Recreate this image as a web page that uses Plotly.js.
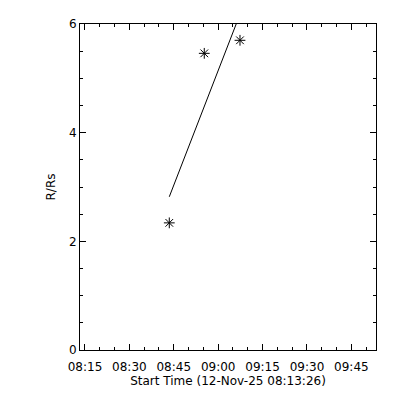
<!DOCTYPE html>
<html><head><meta charset="utf-8">
<script src="https://cdn.plot.ly/plotly-3.0.1.min.js"></script>
<style>html,body{margin:0;padding:0;background:#fff}#c{width:400px;height:400px}</style>
</head><body><div id="c"></div>
<script>
var obsTimes = ['2025-11-12 08:43:29', '2025-11-12 08:55:18', '2025-11-12 09:07:22'];
var obsR = [2.34, 5.46, 5.70];
var fitTimes = ['2025-11-12 08:43:29', '2025-11-12 09:07:22'];
var fitR = [2.82, 6.18];
var xRange = ['2025-11-12 08:13:19', '2025-11-12 09:53:19'];
var yRange = [0, 6];
var xTitle = 'Start Time (12-Nov-25 08:13:26)';
var yTitle = 'R/Rs';

var font = {family: 'DejaVu Sans, sans-serif', size: 12, color: '#000'};
var data = [
  {x: obsTimes, y: obsR, mode: 'markers', type: 'scatter',
   marker: {symbol: 'asterisk-open', size: 9, color: '#000', line: {color: '#000', width: 1}},
   cliponaxis: true, hoverinfo: 'skip'},
  {x: fitTimes, y: fitR, mode: 'lines', type: 'scatter',
   line: {color: '#000', width: 1}, hoverinfo: 'skip'}
];
var layout = {
  width: 400, height: 400,
  margin: {l: 80, r: 24, t: 24, b: 50},
  paper_bgcolor: '#fff', plot_bgcolor: '#fff',
  showlegend: false, font: font,
  xaxis: {type: 'date', range: xRange, showgrid: false, zeroline: false,
    showline: true, linecolor: '#000', linewidth: 1, mirror: 'allticks',
    ticks: 'inside', ticklen: 6, tickcolor: '#000', tickwidth: 1,
    tick0: '2025-11-12 08:15:00', dtick: 900000, tickformat: '%H:%M',
    ticklabelstandoff: 6,
    minor: {ticks: 'inside', ticklen: 3, dtick: 300000, tick0: '2025-11-12 08:15:00', tickcolor: '#000', showgrid: false},
    title: {text: xTitle, font: font, standoff: 0}, tickfont: font},
  yaxis: {range: yRange, showgrid: false, zeroline: false,
    showline: true, linecolor: '#000', linewidth: 1, mirror: 'allticks',
    ticks: 'inside', ticklen: 6, tickcolor: '#000', tickwidth: 1,
    tick0: 0, dtick: 2,
    minor: {ticks: 'inside', ticklen: 3, dtick: 0.5, tickcolor: '#000', showgrid: false},
    title: {text: yTitle, font: font, standoff: 10}, tickfont: font}
};
Plotly.newPlot('c', data, layout, {staticPlot: true});
</script></body></html>
